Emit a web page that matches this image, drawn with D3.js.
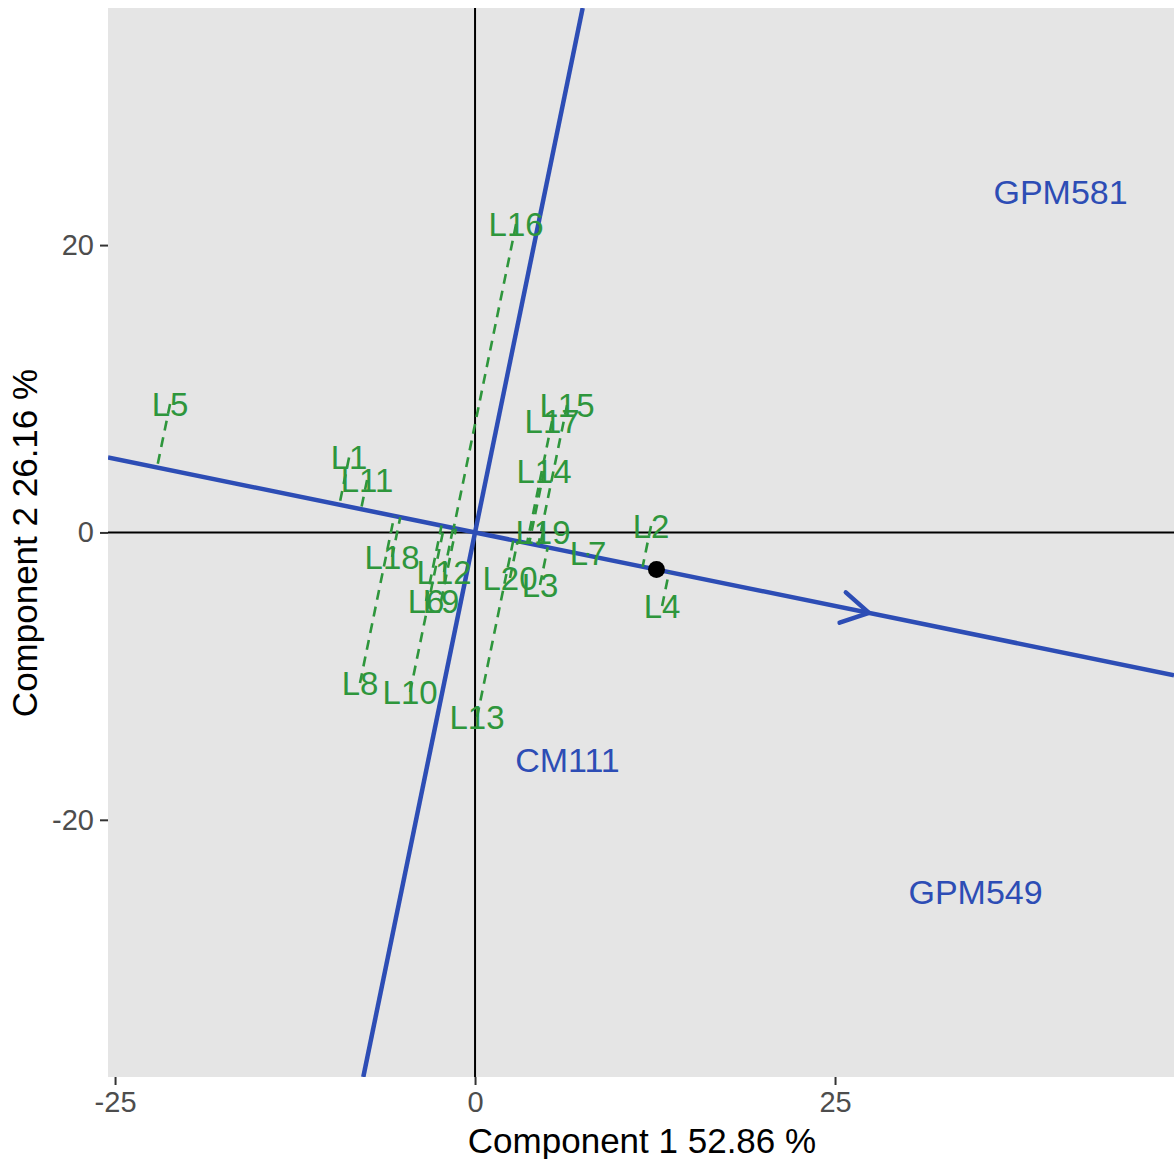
<!DOCTYPE html>
<html>
<head>
<meta charset="utf-8">
<script src="https://cdn.jsdelivr.net/npm/d3@7"></script>
<style>
  html, body { margin: 0; padding: 0; background: #ffffff; }
  svg { display: block; font-family: "Liberation Sans", Arial, sans-serif; }
</style>
</head>
<body>
<svg id="chart" width="1174" height="1159"></svg>
<script>
// ---------- data ----------
const genotypes = ["L1","L2","L3","L4","L5","L6","L7","L8","L9","L10",
                   "L11","L12","L13","L14","L15","L16","L17","L18","L19","L20"];
const genoX = [-8.75, 12.22, 4.51, 12.99, -21.18, -3.40, 7.85, -7.99, -2.36, -4.51,
               -7.50, -2.15, 0.14, 4.79, 6.39, 2.85, 5.35, -5.76, 4.72, 2.43];
const genoY = [5.21, 0.45, -3.66, -5.12, 8.94, -4.77, -1.43, -10.48, -4.77, -11.11,
               3.65, -2.76, -12.85, 4.27, 8.87, 21.46, 7.75, -1.71, 0.03, -3.17];

const environments = ["GPM581", "CM111", "GPM549"];
const envX = [40.66, 6.42, 34.76];
const envY = [23.69, -15.84, -25.03];

const averageEnv = [12.6, -2.58];     // average environment coordinate (black dot)
const arrowTip = [27.36, -5.6];       // arrow head on the average environment axis

const xTicks = [-25, 0, 25];
const yTicks = [-20, 0, 20];
const xTitle = "Component 1 52.86 %";
const yTitle = "Component 2 26.16 %";

// ---------- layout ----------
const W = 1174, H = 1159;
const panel = { left: 108, right: 1174, top: 8, bottom: 1077 };
const blue = "#2D4DB5", green = "#2E963C";

const x = d3.scaleLinear().domain([-25.49, 48.54]).range([panel.left, panel.right]);
const y = d3.scaleLinear().domain([36.5, -37.9]).range([panel.top, panel.bottom]);

const svg = d3.select("#chart");

svg.append("defs").append("clipPath").attr("id", "clip")
  .append("rect")
  .attr("x", panel.left).attr("y", panel.top)
  .attr("width", panel.right - panel.left).attr("height", panel.bottom - panel.top);

svg.append("rect")
  .attr("x", panel.left).attr("y", panel.top)
  .attr("width", panel.right - panel.left).attr("height", panel.bottom - panel.top)
  .attr("fill", "#E5E5E5");

const g = svg.append("g").attr("clip-path", "url(#clip)");

// zero lines
g.append("line").attr("x1", panel.left).attr("x2", panel.right)
  .attr("y1", y(0)).attr("y2", y(0)).attr("stroke", "#000").attr("stroke-width", 2);
g.append("line").attr("x1", x(0)).attr("x2", x(0))
  .attr("y1", panel.top).attr("y2", panel.bottom).attr("stroke", "#000").attr("stroke-width", 2);

// average environment axis (through origin and average environment)
const slope = averageEnv[1] / averageEnv[0];
const [xd0, xd1] = x.domain();
g.append("line")
  .attr("x1", x(xd0)).attr("y1", y(slope * xd0))
  .attr("x2", x(xd1)).attr("y2", y(slope * xd1))
  .attr("stroke", blue).attr("stroke-width", 4.5);

// perpendicular axis
const pslope = -averageEnv[1] / averageEnv[0]; // x = pslope * y
const [yd0, yd1] = y.domain();
g.append("line")
  .attr("x1", x(pslope * yd0)).attr("y1", y(yd0))
  .attr("x2", x(pslope * yd1)).attr("y2", y(yd1))
  .attr("stroke", blue).attr("stroke-width", 4.5);

// arrow head (open chevron)
{
  const tx = x(arrowTip[0]), ty = y(arrowTip[1]);
  const ox = x(0), oy = y(0);
  const ang = Math.atan2(oy - ty, ox - tx);
  const len = 31, spread = Math.PI / 6;
  const a1 = [tx + len * Math.cos(ang + spread), ty + len * Math.sin(ang + spread)];
  const a2 = [tx + len * Math.cos(ang - spread), ty + len * Math.sin(ang - spread)];
  g.append("path")
    .attr("d", `M${a1[0]},${a1[1]}L${tx},${ty}L${a2[0]},${a2[1]}`)
    .attr("fill", "none").attr("stroke", blue).attr("stroke-width", 4.5)
    .attr("stroke-linecap", "round").attr("stroke-linejoin", "round");
}

// projections of genotypes on the average environment axis
const norm = Math.hypot(averageEnv[0], averageEnv[1]);
const ux = averageEnv[0] / norm, uy = averageEnv[1] / norm;
const geno = genotypes.map((name, i) => {
  const px = genoX[i], py = genoY[i];
  const d = px * ux + py * uy;
  return { name, px, py, qx: d * ux, qy: d * uy };
});

g.selectAll("line.proj").data(geno).enter().append("line")
  .attr("class", "proj")
  .attr("x1", d => x(d.px)).attr("y1", d => y(d.py))
  .attr("x2", d => x(d.qx)).attr("y2", d => y(d.qy))
  .attr("stroke", green).attr("stroke-width", 2.6)
  .attr("stroke-dasharray", "10,7");

g.selectAll("text.geno").data(geno).enter().append("text")
  .attr("class", "geno")
  .attr("x", d => x(d.px)).attr("y", d => y(d.py))
  .attr("dy", "0.36em")
  .attr("text-anchor", "middle")
  .attr("font-size", 33)
  .attr("fill", green)
  .text(d => d.name);

g.selectAll("text.env").data(environments).enter().append("text")
  .attr("class", "env")
  .attr("x", (d, i) => x(envX[i])).attr("y", (d, i) => y(envY[i]))
  .attr("dy", "0.36em")
  .attr("text-anchor", "middle")
  .attr("font-size", 34)
  .attr("fill", blue)
  .text(d => d);

// average environment point
g.append("circle")
  .attr("cx", x(averageEnv[0])).attr("cy", y(averageEnv[1]))
  .attr("r", 8.5).attr("fill", "#000");

// ---------- axes ----------
const fmt = d => String(d);
const xAxis = d3.axisBottom(x).tickValues(xTicks).tickSize(8).tickPadding(6).tickFormat(fmt);
const yAxis = d3.axisLeft(y).tickValues(yTicks).tickSize(8).tickPadding(6).tickFormat(fmt);

const gx = svg.append("g").attr("transform", `translate(0,${panel.bottom})`).call(xAxis);
const gy = svg.append("g").attr("transform", `translate(${panel.left},0)`).call(yAxis);
[gx, gy].forEach(a => {
  a.select(".domain").remove();
  a.selectAll(".tick line").attr("stroke", "#333").attr("stroke-width", 2);
  a.selectAll(".tick text").attr("fill", "#4D4D4D").attr("font-size", 29)
    .attr("font-family", "Liberation Sans, Arial, sans-serif");
});

svg.append("text")
  .attr("x", 642).attr("y", 1153)
  .attr("text-anchor", "middle").attr("font-size", 35).attr("fill", "#000")
  .text(xTitle);

svg.append("text")
  .attr("transform", "translate(37,543) rotate(-90)")
  .attr("text-anchor", "middle").attr("font-size", 35).attr("fill", "#000")
  .text(yTitle);
</script>
</body>
</html>
